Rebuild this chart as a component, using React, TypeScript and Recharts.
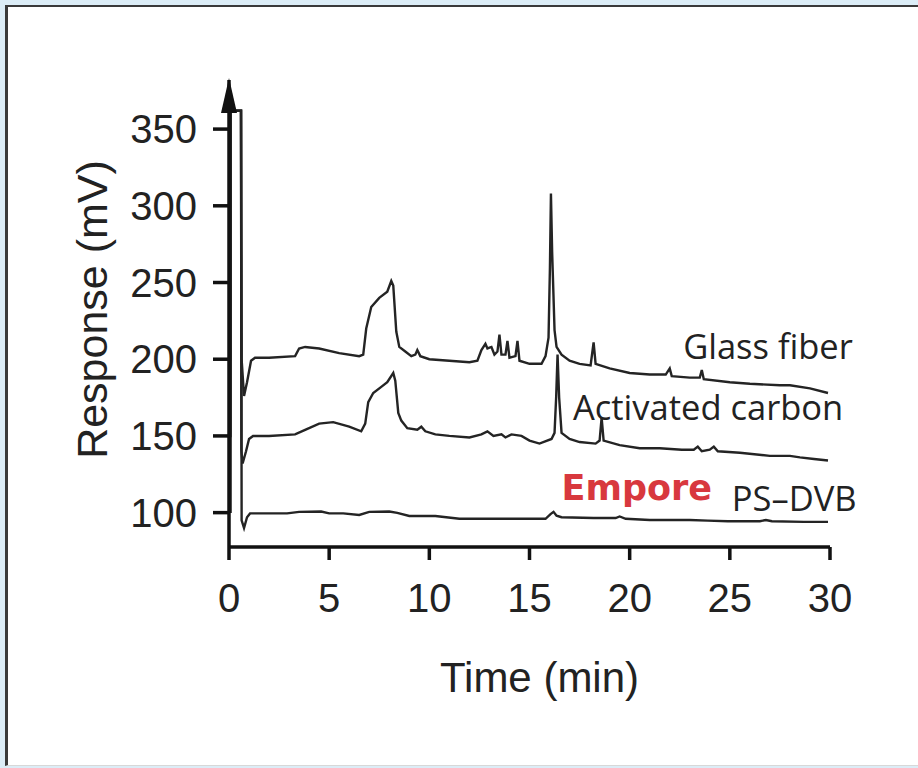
import React from 'react';
import { LineChart, Line, XAxis, YAxis, ReferenceDot, Label } from 'recharts';

const xTicks = [0, 5, 10, 15, 20, 25, 30];
const yTicks = [100, 150, 200, 250, 300, 350];

const glassFiberTime = [0, 0.08, 0.09, 0.6, 0.63, 0.75, 0.9, 1.1, 1.3, 2, 3.3, 3.5, 3.8, 4.5, 5.5, 6.5, 6.7, 6.85, 7.1, 7.5, 7.9, 8.1, 8.2, 8.35, 8.5, 8.8, 9.1, 9.3, 9.4, 9.55, 10, 11, 12, 12.4, 12.6, 12.8, 12.9, 13.1, 13.25, 13.4, 13.5, 13.6, 13.8, 13.9, 14, 14.3, 14.4, 14.5, 15, 15.6, 15.8, 15.95, 16.02, 16.07, 16.13, 16.25, 16.35, 16.6, 17, 17.5, 18.05, 18.2, 18.3, 19, 20, 21, 21.8, 22, 22.1, 23, 23.5, 23.6, 23.7, 25, 26, 27.5, 28, 29, 29.9];
const glassFiberResp = [200, 200, 362, 362, 200, 176, 185, 199, 201, 201, 202, 207, 208, 207, 204, 202, 203, 220, 234, 240, 244, 251, 248, 218, 208, 205, 202, 203, 206, 202, 200, 199, 198, 199, 206, 210, 207, 208, 203, 205, 216, 203, 203, 212, 201, 202, 212, 199, 197, 197, 202, 214, 260, 308, 270, 219, 208, 203, 199, 197, 196, 211, 197, 194, 191, 190, 190, 194, 189, 188, 188, 193, 187, 185, 184, 183, 183, 181, 178];

const activatedCarbonTime = [0, 0.08, 0.09, 0.6, 0.62, 0.68, 0.85, 1.0, 1.2, 2, 3.3, 3.8, 4.5, 5.2, 6, 6.6, 6.8, 6.95, 7.2, 7.6, 7.9, 8.2, 8.3, 8.45, 8.6, 8.9, 9.4, 9.6, 9.8, 10.3, 11, 12, 12.6, 12.9, 13.2, 13.6, 13.8, 14.1, 14.6, 15, 15.5, 16.1, 16.25, 16.33, 16.4, 16.48, 16.6, 17, 17.5, 18.3, 18.5, 18.6, 18.7, 19.5, 20.5, 21.5, 22.6, 23.2, 23.4, 23.6, 24, 24.2, 24.4, 25.5, 27, 28, 28.5, 29.2, 29.9];
const activatedCarbonResp = [150, 150, 362, 362, 140, 132, 140, 148, 150, 150, 151, 154, 158, 159, 156, 153, 158, 172, 178, 182, 185, 191, 186, 165, 160, 155, 154, 156, 153, 151, 150, 149, 151, 153, 150, 151, 149, 151, 150, 147, 145, 148, 152, 175, 203, 175, 152, 148, 146, 145, 147, 162, 147, 144, 142, 142, 141, 141, 143, 140, 141, 143, 140, 139, 137, 137, 136, 135, 134];

const psDvbTime = [0, 0.08, 0.09, 0.6, 0.63, 0.75, 0.9, 1.05, 2.9, 3.5, 4.6, 5, 5.7, 6.5, 7, 8, 8.4, 9, 10.3, 11.5, 15.8, 16.05, 16.2, 16.35, 16.6, 18.2, 19.3, 19.5, 19.8, 21, 23, 23.9, 24.9, 26.5, 26.8, 27.1, 28.7, 29.9];
const psDvbResp = [100.5, 100.5, 362, 362, 95, 90, 97, 99.5, 99.5, 100.5, 100.7, 99.5, 99.5, 98.5, 100.5, 100.7, 99.8, 97.8, 97.8, 96, 96, 99, 100.5, 98, 97, 96.5, 96.5, 97.5, 96, 95.2, 95.2, 94.8, 94.4, 94.4, 95.2, 94.4, 94, 94];

const zip = (ts: number[], vs: number[]) => ts.map((t, i) => ({ t, v: vs[i] }));
const glassFiberData = zip(glassFiberTime, glassFiberResp);
const activatedCarbonData = zip(activatedCarbonTime, activatedCarbonResp);
const psDvbData = zip(psDvbTime, psDvbResp);

const TRACE = '#242424';
const AXIS = '#111';
const TEXT = '#222';

const tickStyle = { fontFamily: '"Liberation Sans", Arial, sans-serif', fontSize: 40, fill: TEXT };
const labelStyle = { fontFamily: '"Open Sans", sans-serif', fontSize: 34.5, fill: TEXT };
const emporeStyle = { fontFamily: '"DejaVu Sans", sans-serif', fontWeight: 700, fontSize: 35, fill: '#d8383e' };

const textAt = (text: string, style: any) => (props: any) => {
  const vb = props.viewBox || {};
  return (
    <text x={vb.x} y={vb.y} textAnchor="start" style={style}>
      {text}
    </text>
  );
};

const ArrowHead = (props: any) => {
  const { cx, cy } = props;
  if (cx == null || cy == null) return null;
  return <path d={`M${cx},${cy - 2} L${cx - 8},${cy + 33} L${cx + 8},${cy + 33} Z`} fill={AXIS} />;
};

const yTitle = (props: any) => {
  const vb = props.viewBox;
  const x = vb.x + 107;
  const y = vb.y + vb.height / 2 - 4;
  return (
    <text x={x} y={y} transform={`rotate(-90, ${x}, ${y})`} textAnchor="middle"
      style={{ fontFamily: '"Liberation Sans", Arial, sans-serif', fontSize: 43, fill: TEXT }}>
      Response (mV)
    </text>
  );
};

const xTitle = (props: any) => {
  const vb = props.viewBox;
  const x = vb.x + vb.width / 2 + 10;
  const y = vb.y + 145;
  return (
    <text x={x} y={y} textAnchor="middle"
      style={{ fontFamily: '"Liberation Sans", Arial, sans-serif', fontSize: 42, fill: TEXT }}>
      Time (min)
    </text>
  );
};

export default function App() {
  return (
    <div style={{ position: 'absolute', left: 0, top: 0, width: 918, height: 768, background: '#dcedf7', overflow: 'hidden' }}>
      <div style={{ position: 'absolute', left: 5, top: 5, width: 913, height: 761, background: '#fff', borderTop: '2px solid #3a3a3a', borderLeft: '3px solid #3a3a3a', borderBottom: '1px solid #d8d8d8', boxSizing: 'border-box' }} />
      <div style={{ position: 'absolute', left: 0, top: 0 }}>
        <LineChart width={918} height={768} margin={{ top: 80, right: 88, bottom: 121, left: 0 }}>
          <XAxis
            type="number"
            dataKey="t"
            domain={[0, 30]}
            ticks={xTicks}
            allowDataOverflow
            height={100}
            tickSize={13}
            tickMargin={24}
            axisLine={{ stroke: AXIS, strokeWidth: 3.5 }}
            tickLine={{ stroke: AXIS, strokeWidth: 3.5 }}
            tick={tickStyle}
          >
            <Label content={xTitle} />
          </XAxis>
          <YAxis
            type="number"
            dataKey="v"
            domain={[77.6, 382]}
            ticks={yTicks}
            allowDataOverflow
            width={229}
            tickSize={16}
            tickMargin={16}
            axisLine={{ stroke: AXIS, strokeWidth: 3.5 }}
            tickLine={{ stroke: AXIS, strokeWidth: 3.5 }}
            tick={tickStyle}
          >
            <Label content={yTitle} />
          </YAxis>
          <Line data={psDvbData} dataKey="v" type="linear" stroke={TRACE} strokeWidth={2.4} dot={false} isAnimationActive={false} />
          <Line data={activatedCarbonData} dataKey="v" type="linear" stroke={TRACE} strokeWidth={2.4} dot={false} isAnimationActive={false} />
          <Line data={glassFiberData} dataKey="v" type="linear" stroke={TRACE} strokeWidth={2.4} dot={false} isAnimationActive={false} />
          <ReferenceDot x={0} y={382} r={1} shape={ArrowHead} ifOverflow="visible" />
          <ReferenceDot x={22.67} y={200.2} r={0} fill="none" stroke="none" ifOverflow="visible" label={{ content: textAt('Glass fiber', labelStyle) }} />
          <ReferenceDot x={17.17} y={160.4} r={0} fill="none" stroke="none" ifOverflow="visible" label={{ content: textAt('Activated carbon', labelStyle) }} />
          <ReferenceDot x={16.6} y={108.3} r={0} fill="none" stroke="none" ifOverflow="visible" label={{ content: textAt('Empore', emporeStyle) }} />
          <ReferenceDot x={25.1} y={101.1} r={0} fill="none" stroke="none" ifOverflow="visible" label={{ content: textAt('PS\u2013DVB', labelStyle) }} />
        </LineChart>
      </div>
    </div>
  );
}
